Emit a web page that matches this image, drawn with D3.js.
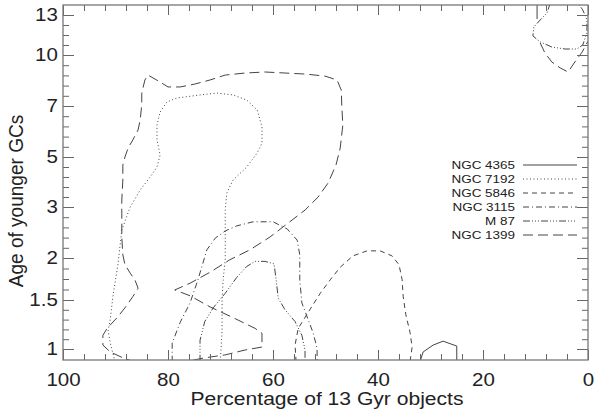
<!DOCTYPE html>
<html>
<head>
<meta charset="utf-8">
<script src="https://cdn.jsdelivr.net/npm/d3@7"></script>
<style>
  body { margin: 0; background: #fff; }
  text { font-family: "Liberation Sans", Arial, sans-serif; fill: #222; }
</style>
</head>
<body>
<svg width="594" height="419"></svg>
<script>
// ticks
const xTicks = [100, 80, 60, 40, 20, 0];
const xMinor = d3.range(0, 101, 4);
const yTicks = [1, 1.5, 2, 3, 5, 7, 10, 13];
const yMinor = [1.1, 1.2, 1.3, 1.4, 1.625, 1.75, 1.875, 2.2, 2.4, 2.6, 2.8,
                3.4, 3.8, 4.2, 4.6, 5.4, 5.8, 6.2, 6.6, 7.6, 8.2, 8.8, 9.4,
                10.75, 11.5, 12.25];

const names = ["NGC 4365", "NGC 7192", "NGC 5846", "NGC 3115", "M 87", "NGC 1399"];

// contours: [percentage of 13 Gyr objects, age of younger GCs], one array per piece
const ngc4365 = [
  [[32.0,0.87],[31.4,0.97],[29.5,1.04],[27.6,1.08],[25.0,1.03],[25.0,0.87]],
  [[9.7,13.98],[9.7,12.7]]
];
const ngc7192 = [
  [[90.1,0.87],[91.0,1.06],[91.4,1.19],[91.0,1.30],[90.5,1.54],[89.5,1.94],[88.8,2.55],
   [87.2,3.0],[85.3,3.68],[83.4,4.2],[82.1,4.6],[81.5,5.08],[82.1,5.67],[82.1,6.25],
   [81.5,6.76],[80.2,7.24],[78.3,7.47],[73.9,7.65],[70.7,7.76],[67.6,7.65],[65.0,7.35],
   [63.0,6.84],[62.1,6.18],[62.1,5.55],[63.0,5.16],[65.0,4.6],[67.6,4.08],[68.8,3.56],
   [69.1,2.94],[69.1,2.49],[69.1,1.98],[69.5,1.74],[69.7,1.5],[69.7,1.19],[69.9,0.99],[70.1,0.87]]
];
const ngc5846 = [
  [[55.6,0.87],[55.8,1.04],[55.2,1.21],[53.0,1.40],[51.0,1.58],[49.1,1.74],[47.2,1.89],
   [44.8,2.04],[42.1,2.14],[39.6,2.14],[37.3,2.04],[36.0,1.92],[35.4,1.74],[35.2,1.54],
   [34.7,1.35],[33.9,1.17],[33.5,1.02],[33.9,0.87]]
];
const ngc3115 = [
  [[79.2,0.87],[79.2,1.06],[77.7,1.27],[75.8,1.47],[74.3,1.74],[72.6,2.16],[71.0,2.39],
   [69.1,2.53],[66.9,2.63],[63.8,2.71],[60.0,2.71],[57.3,2.57],[55.4,2.35],[54.9,2.06],
   [54.9,1.74],[54.5,1.47],[53.3,1.30],[52.4,1.17],[51.6,1.01],[51.6,0.87]]
];
const m87 = [
  [[73.9,0.87],[73.9,1.09],[73.0,1.28],[71.4,1.42],[69.1,1.58],[66.9,1.77],[65.0,1.90],
   [63.4,1.96],[61.5,1.96],[59.8,1.93],[59.4,1.74],[59.0,1.52],[57.7,1.40],[55.8,1.28],
   [54.5,1.14],[53.9,0.99],[53.9,0.87]],
  [[7.2,13.9],[7.8,13.15],[9.1,12.63],[10.3,12.1],[10.5,11.43],[9.1,10.98],[6.9,10.6],
   [4.4,10.45],[2.1,10.45],[1.0,10.75],[0.2,11.65],[0.2,12.63],[1.0,13.38],[1.9,13.9]]
];
const ngc1399 = [
  [[83.4,0.81],[88.6,0.91],[91.0,0.97],[92.4,1.04],[92.4,1.14],[91.6,1.21],[89.7,1.32],
   [88.2,1.42],[86.7,1.54],[85.7,1.64],[86.3,1.74],[87.2,1.82],[88.2,1.92],[88.6,2.06],
   [88.8,2.41],[88.8,2.88],[88.8,3.28],[88.6,4.08],[88.6,4.68],[88.2,5.0],[87.6,5.35],
   [86.7,5.67],[85.7,6.06],[85.3,6.45],[85.0,7.06],[85.0,7.76],[84.4,8.53],[83.8,8.82],
   [81.5,8.41],[80.0,8.12],[77.7,8.12],[74.9,8.29],[72.0,8.53],[69.1,8.82],[65.3,8.94],
   [61.5,9.0],[57.7,8.94],[53.9,8.88],[50.1,8.76],[47.8,8.53],[47.0,7.94],[46.9,7.06],
   [46.7,6.25],[47.2,5.35],[48.0,4.68],[49.5,3.96],[51.4,3.4],[53.9,2.94],[56.8,2.71],
   [60.6,2.41],[64.4,2.16],[68.2,1.98],[72.0,1.83],[75.8,1.70],[78.7,1.62],[75.8,1.55],
   [72.0,1.43],[67.6,1.32],[63.4,1.21],[62.1,1.16],[62.1,1.02],[65.3,0.99],[69.1,0.94],
   [73.0,0.91],[76.8,0.87],[83.4,0.81]],
  [[9.1,10.9],[8.2,10.15],[6.9,9.59],[5.3,9.24],[3.8,9.0],[2.5,9.59],[1.1,10.23],
   [0.2,10.9],[-0.8,11.5]]
];

const series = [ngc4365, ngc7192, ngc5846, ngc3115, m87, ngc1399];
const dashes = [null, "1,2.5", "5,4", "6,3,1,3", "7,2,1,2,1,2,1,2", "10,5"];

const svg = d3.select("svg");
const pLeft = 63, pRight = 588, pTop = 5, pBottom = 360;
const sx = 1.14; // the original figure's lettering is a little wider than tall

const x = d3.scaleLinear().domain([100, 0]).range([pLeft, pRight]);
const y = d3.scaleLinear().domain(yTicks).range([349, 300, 258, 207, 157, 106, 55, 15]);

svg.append("clipPath").attr("id", "plot")
  .append("rect").attr("x", pLeft).attr("y", pTop)
  .attr("width", pRight - pLeft).attr("height", pBottom - pTop);

const line = d3.line().x(d => x(d[0])).y(d => y(d[1]));

const g = svg.append("g").attr("clip-path", "url(#plot)");
series.forEach((pieces, i) => {
  g.selectAll(null).data(pieces).enter().append("path")
    .attr("d", line)
    .attr("fill", "none")
    .attr("stroke", "#444")
    .attr("stroke-width", 1)
    .attr("stroke-dasharray", dashes[i]);
});

// axes, IDL style: ticks inside on all four sides
function style(sel) {
  sel.select(".domain").remove();
  sel.selectAll("line").attr("stroke", "#666");
  sel.selectAll("text").attr("font-size", 18).attr("fill", "#222")
    .attr("font-family", "'Liberation Sans', Arial, sans-serif")
    .attr("transform", `scale(${sx},1)`);
}

svg.append("g").attr("transform", `translate(0,${pBottom})`)
  .call(d3.axisBottom(x).tickValues(xTicks).tickSize(-10).tickPadding(13).tickFormat(d3.format("d")))
  .call(style);
svg.append("g").attr("transform", `translate(0,${pBottom})`)
  .call(d3.axisBottom(x).tickValues(xMinor).tickSize(-6).tickFormat(""))
  .call(style);
svg.append("g").attr("transform", `translate(0,${pTop})`)
  .call(d3.axisTop(x).tickValues(xTicks).tickSize(-10).tickFormat(""))
  .call(style);
svg.append("g").attr("transform", `translate(0,${pTop})`)
  .call(d3.axisTop(x).tickValues(xMinor).tickSize(-6).tickFormat(""))
  .call(style);

svg.append("g").attr("transform", `translate(${pLeft},0)`)
  .call(d3.axisLeft(y).tickValues(yTicks).tickSize(-11).tickPadding(4.5).tickFormat(d => d))
  .call(style);
svg.append("g").attr("transform", `translate(${pLeft},0)`)
  .call(d3.axisLeft(y).tickValues(yMinor).tickSize(-6).tickFormat(""))
  .call(style);
svg.append("g").attr("transform", `translate(${pRight},0)`)
  .call(d3.axisRight(y).tickValues(yTicks).tickSize(-11).tickFormat(""))
  .call(style);
svg.append("g").attr("transform", `translate(${pRight},0)`)
  .call(d3.axisRight(y).tickValues(yMinor).tickSize(-6).tickFormat(""))
  .call(style);

svg.append("rect")
  .attr("x", pLeft).attr("y", pTop)
  .attr("width", pRight - pLeft).attr("height", pBottom - pTop)
  .attr("fill", "none").attr("stroke", "#777").attr("stroke-width", 1.3);

// axis titles
svg.append("text")
  .attr("transform", `translate(327,405) scale(${sx},1)`)
  .attr("text-anchor", "middle").attr("font-size", 18.5)
  .text("Percentage of 13 Gyr objects");
svg.append("text")
  .attr("transform", `translate(23,201) rotate(-90) scale(1.03,${sx})`)
  .attr("text-anchor", "middle").attr("font-size", 18.5)
  .text("Age of younger GCs");

// legend
const leg = svg.append("g");
names.forEach((n, i) => {
  const ly = 165 + i * 14;
  leg.append("text")
    .attr("transform", `translate(515,${ly}) scale(${sx},1)`)
    .attr("dy", "0.35em")
    .attr("text-anchor", "end").attr("font-size", 11.8)
    .text(n);
  leg.append("line")
    .attr("x1", 523).attr("x2", 577).attr("y1", ly).attr("y2", ly)
    .attr("stroke", "#444").attr("stroke-width", 1)
    .attr("stroke-dasharray", dashes[i]);
});
</script>
</body>
</html>
